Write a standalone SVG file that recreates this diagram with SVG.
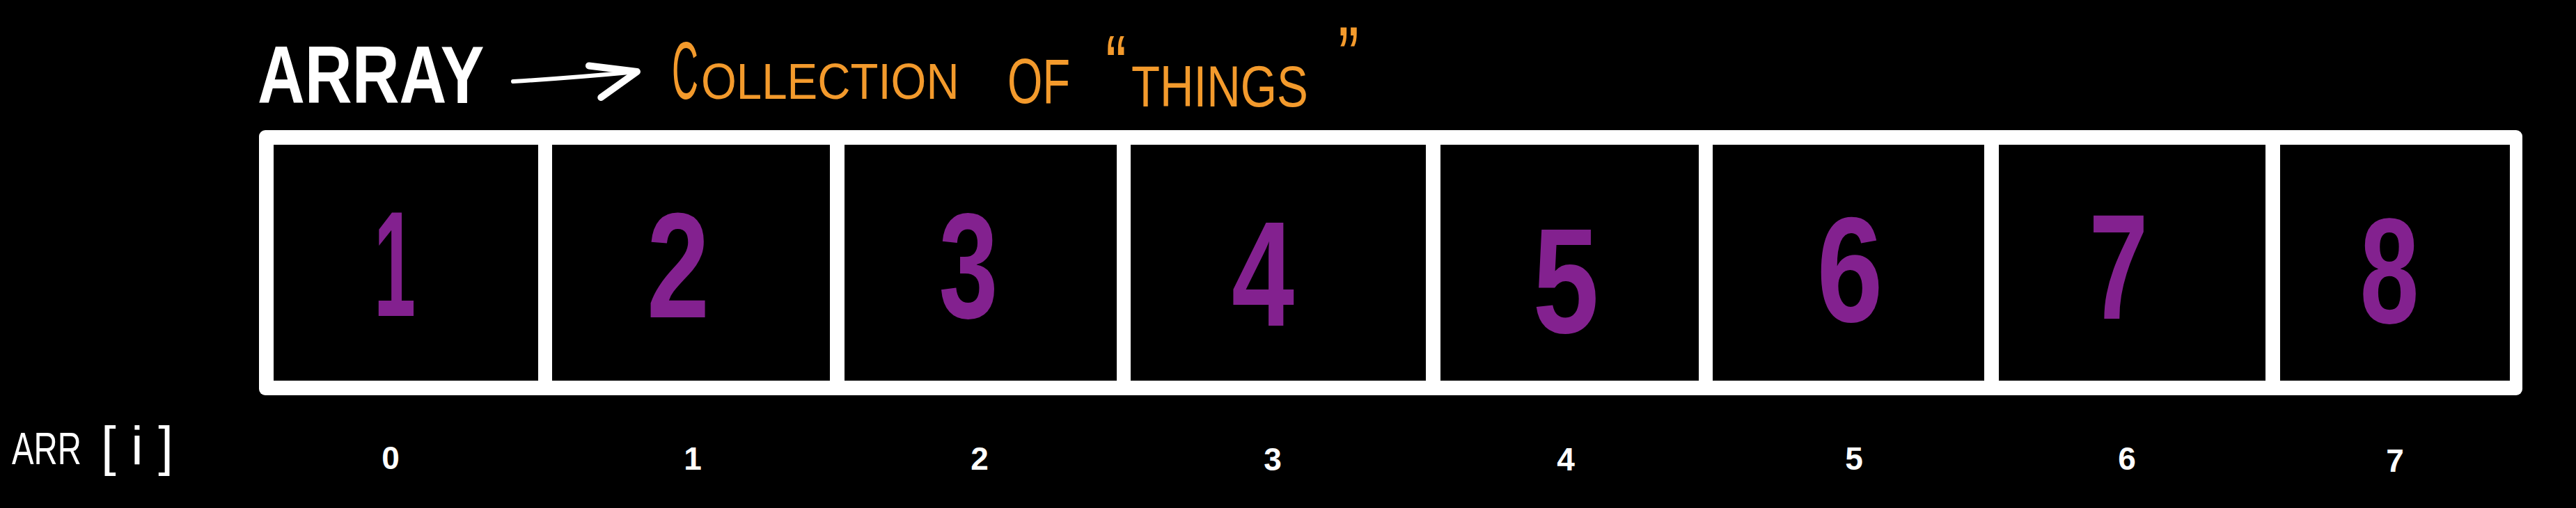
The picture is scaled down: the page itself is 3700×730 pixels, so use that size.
<svg xmlns="http://www.w3.org/2000/svg" width="3700" height="730" viewBox="0 0 3700 730">
  <style>
    .cell { fill: #000000; }
    .val { font-family: "Liberation Sans", "DejaVu Sans", sans-serif; font-size: 215px; font-weight: bold; fill: #83218F; text-anchor: middle; }
    .idx { font-family: "Liberation Sans", "DejaVu Sans", sans-serif; font-size: 46px; font-weight: bold; fill: #FFFFFF; text-anchor: middle; }
    .orange { font-family: "Liberation Sans", "DejaVu Sans", sans-serif; fill: #F39A2C; }
    .white { font-family: "Liberation Sans", "DejaVu Sans", sans-serif; fill: #FFFFFF; }
  </style>
  <defs>
    <marker id="chev" viewBox="0 0 12 12" refX="10" refY="6" markerWidth="12" markerHeight="12" markerUnits="userSpaceOnUse" orient="auto" overflow="visible">
      <path d="M -58 -9 L 10 6 L -45 38" fill="none" stroke="#FFFFFF" stroke-width="10" stroke-linecap="round" stroke-linejoin="round"/>
    </marker>
  </defs>
  <rect x="0" y="0" width="3700" height="730" fill="#000000"/>

  <g id="title">
    <text class="white" transform="translate(370,148) scale(0.81,1)" font-size="116" font-weight="bold">ARRAY</text>
    <text class="orange" transform="translate(965,142) scale(0.45,1)" font-size="117">C</text>
    <text class="orange" transform="translate(1007,142) scale(0.896,1)" font-size="73">OLLECTION</text>
    <text class="orange" transform="translate(1447,148) scale(0.72,1)" font-size="90">OF</text>
    <text class="orange" transform="translate(1588,135) scale(0.75,1)" font-size="120">“</text>
    <text class="orange" transform="translate(1625,153) scale(0.8,1)" font-size="84">THINGS</text>
    <text class="orange" transform="translate(1922,123) scale(0.75,1)" font-size="120">”</text>
  </g>

  <g id="connectors">
    <path d="M 737 117 Q 820 112 915 103" fill="none" stroke="#FFFFFF" stroke-width="6" stroke-linecap="round" marker-end="url(#chev)"/>
  </g>

  <g id="array-frame">
    <rect x="372" y="187" width="3251" height="381" rx="9" fill="#FFFFFF"/>
  </g>

  <g id="cell-0">
    <rect class="cell" x="393" y="208" width="380" height="339"/>
    <text class="val" x="567" y="454" textLength="60" lengthAdjust="spacingAndGlyphs">1</text>
    <text class="idx" x="561" y="674">0</text>
  </g>
  <g id="cell-1">
    <rect class="cell" x="793" y="208" width="399" height="339"/>
    <text class="val" x="974" y="456" textLength="90" lengthAdjust="spacingAndGlyphs">2</text>
    <text class="idx" x="995" y="675">1</text>
  </g>
  <g id="cell-2">
    <rect class="cell" x="1213" y="208" width="391" height="339"/>
    <text class="val" x="1391" y="457" textLength="85" lengthAdjust="spacingAndGlyphs">3</text>
    <text class="idx" x="1407" y="675">2</text>
  </g>
  <g id="cell-3">
    <rect class="cell" x="1624" y="208" width="424" height="339"/>
    <text class="val" x="1814" y="468" textLength="90" lengthAdjust="spacingAndGlyphs">4</text>
    <text class="idx" x="1828" y="676">3</text>
  </g>
  <g id="cell-4">
    <rect class="cell" x="2069" y="208" width="371" height="339"/>
    <text class="val" x="2249" y="478" textLength="95" lengthAdjust="spacingAndGlyphs">5</text>
    <text class="idx" x="2249" y="676">4</text>
  </g>
  <g id="cell-5">
    <rect class="cell" x="2460" y="208" width="390" height="339"/>
    <text class="val" x="2657" y="462" textLength="95" lengthAdjust="spacingAndGlyphs">6</text>
    <text class="idx" x="2663" y="675">5</text>
  </g>
  <g id="cell-6">
    <rect class="cell" x="2871" y="208" width="383" height="339"/>
    <text class="val" x="3043" y="458" textLength="85" lengthAdjust="spacingAndGlyphs">7</text>
    <text class="idx" x="3055" y="675">6</text>
  </g>
  <g id="cell-7">
    <rect class="cell" x="3275" y="208" width="330" height="339"/>
    <text class="val" x="3432" y="464" textLength="85" lengthAdjust="spacingAndGlyphs">8</text>
    <text class="idx" x="3440" y="678">7</text>
  </g>

  <g id="index-label">
    <text class="white" transform="translate(17,667) scale(0.74,1)" font-size="64">ARR</text>
    <text class="white" x="145" y="668" font-size="78">[ i ]</text>
  </g>
</svg>
